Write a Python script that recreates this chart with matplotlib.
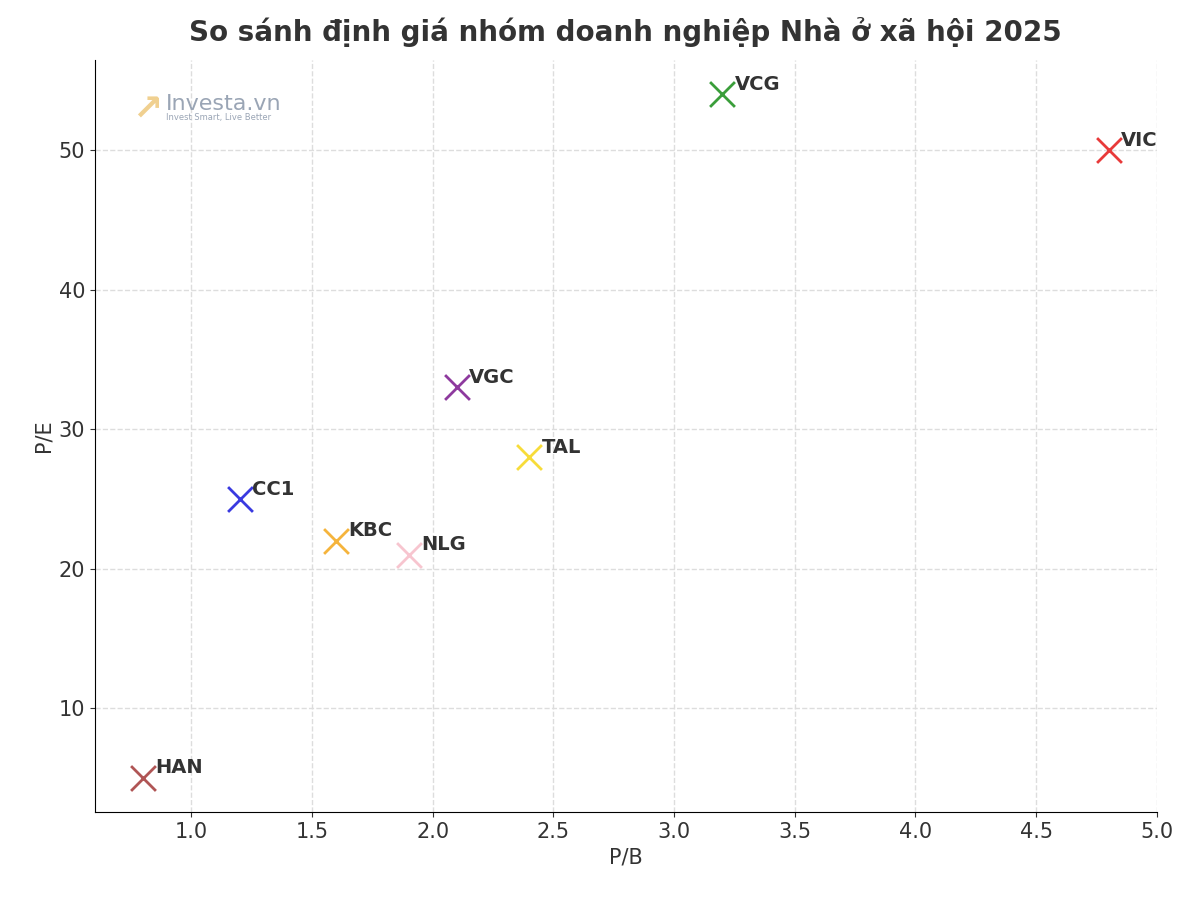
import matplotlib
matplotlib.use("Agg")
import matplotlib.pyplot as plt

tickers = ["HAN", "CC1", "KBC", "NLG", "VGC", "TAL", "VCG", "VIC"]
pb = [0.8, 1.2, 1.6, 1.9, 2.1, 2.4, 3.2, 4.8]
pe = [5, 25, 22, 21, 33, 28, 54, 50]
colors = ["#b05555", "#3a3ae0", "#f5b43c", "#f7c5cf", "#8e3a9e", "#f7dc3a", "#3a9e3a", "#e83a3a"]

fig = plt.figure(figsize=(12, 9), dpi=100)
ax = fig.add_axes([0.079, 0.098, 0.885, 0.835])
for t, x, y, c in zip(tickers, pb, pe, colors):
    ax.scatter(x, y, marker="x", s=320, color=c, linewidths=2, zorder=3)
    ax.annotate(t, (x, y), xytext=(9, 3), textcoords="offset points",
                fontsize=14, fontweight="bold", color="#333333", zorder=4)
ax.grid(True, linestyle="--", color="#dddddd", linewidth=1)
ax.set_axisbelow(True)
for s in ["top", "right"]:
    ax.spines[s].set_visible(False)
ax.tick_params(labelsize=15, colors="#333333")
ax.set_xlabel("P/B", fontsize=15, color="#333333")
ax.set_ylabel("P/E", fontsize=15, color="#333333")
ax.set_xticks([1.0, 1.5, 2.0, 2.5, 3.0, 3.5, 4.0, 4.5, 5.0])
ax.set_yticks([10, 20, 30, 40, 50])
ax.set_title("So sánh định giá nhóm doanh nghiệp Nhà ở xã hội 2025",
             fontsize=20, fontweight="bold", color="#333333", pad=14)
fig.text(0.138, 0.878, "Investa.vn", fontsize=16, color="#9aa5b5")
fig.text(0.138, 0.867, "Invest Smart, Live Better", fontsize=6, color="#9aa5b5")
fig.text(0.110, 0.866, "↗", fontsize=26, color="#f0d090", fontweight="bold")
fig.savefig("out.png")
